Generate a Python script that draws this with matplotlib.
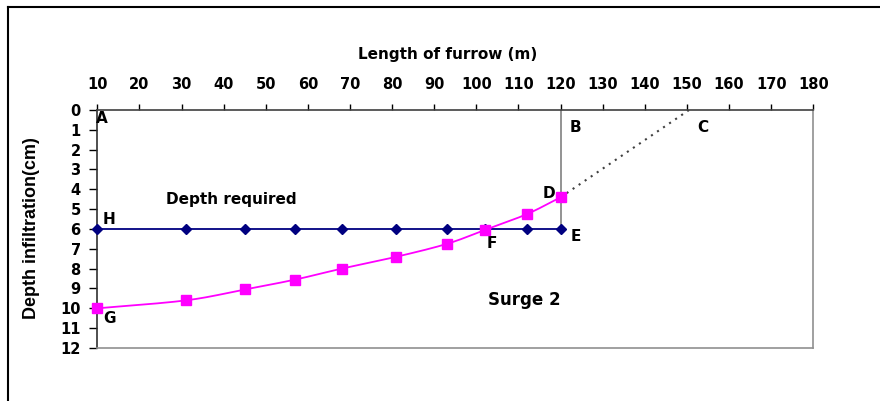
import numpy as np
import matplotlib
matplotlib.use("Agg")
import matplotlib.pyplot as plt
from matplotlib.lines import Line2D

plt.rcParams['font.family'] = ['DejaVu Sans']
plt.rcParams['font.weight'] = 'bold'

# depth required line (H - E)
req_x = [10, 31, 45, 57, 68, 81, 93, 102, 112, 120]
req_y = [6, 6, 6, 6, 6, 6, 6, 6, 6, 6]

# surge 2 infiltration (G - D)
surge_x = [10, 31, 45, 57, 68, 81, 93, 102, 112, 120]
surge_y = [10.0, 9.6, 9.05, 8.55, 8.0, 7.4, 6.75, 6.05, 5.25, 4.4]

# extension D - C and line B - E
ext_x = [120, 150.5]
ext_y = [4.4, 0]
vert_x = [120, 120]
vert_y = [0, 6]

point_labels = [("A", 11.0, 0.45), ("B", 123.5, 0.9), ("C", 153.8, 0.9),
                ("D", 117.3, 4.2), ("E", 123.5, 6.4), ("F", 103.6, 6.75),
                ("G", 12.8, 10.5), ("H", 12.8, 5.5)]


def smooth(x, y, n=20):
    # catmull-rom, just for drawing the curve like excel does
    x = np.asarray(x, float)
    y = np.asarray(y, float)
    px = np.concatenate([[2 * x[0] - x[1]], x, [2 * x[-1] - x[-2]]])
    py = np.concatenate([[2 * y[0] - y[1]], y, [2 * y[-1] - y[-2]]])
    xs, ys = [], []
    t = np.linspace(0, 1, n, endpoint=False)
    for i in range(1, len(px) - 2):
        for p, out in ((px, xs), (py, ys)):
            p0, p1, p2, p3 = p[i - 1], p[i], p[i + 1], p[i + 2]
            out.extend(0.5 * (2 * p1 + (-p0 + p2) * t + (2 * p0 - 5 * p1 + 4 * p2 - p3) * t ** 2
                              + (-p0 + 3 * p1 - 3 * p2 + p3) * t ** 3))
    xs.append(x[-1])
    ys.append(y[-1])
    return xs, ys


fig = plt.figure(figsize=(8.8, 4.01), dpi=100)
ax = fig.add_axes([0.1106, 0.1322, 0.8136, 0.5935])

ax.plot(vert_x, vert_y, color='#808080', lw=1.2, zorder=2)
ax.plot(ext_x, ext_y, color='#404040', lw=1.5, ls=(0, (1, 2.5)), zorder=2)
ax.plot(req_x, req_y, color='#000080', lw=1.3, marker='D', ms=5.5, zorder=3, clip_on=False)
sx, sy = smooth(surge_x, surge_y)
ax.plot(sx, sy, color='#FF00FF', lw=1.3, zorder=4, clip_on=False)
ax.plot(surge_x, surge_y, ls='none', color='#FF00FF', marker='s', ms=7, zorder=5, clip_on=False)

for txt, x, y in point_labels:
    ax.text(x, y, txt, fontsize=11, fontweight='bold', ha='center', va='center')
ax.text(41.8, 4.5, "Depth required", fontsize=11, fontweight='bold', ha='center', va='center')
ax.text(111.3, 9.6, "Surge 2", fontsize=12, fontweight='bold', ha='center', va='center')

ax.set_xlim(10, 180)
ax.set_ylim(12, 0)
ax.set_xticks(range(10, 181, 10))
ax.set_yticks(range(0, 13))
ax.xaxis.tick_top()
ax.tick_params(axis='x', length=4, width=1, pad=9, labelsize=10.5, colors='black')
ax.tick_params(axis='y', length=6, width=1, pad=6, labelsize=10.5, colors='black')
for lab in ax.get_xticklabels() + ax.get_yticklabels():
    lab.set_fontweight('bold')

ax.spines['top'].set_color('#404040')
ax.spines['left'].set_color('#303030')
ax.spines['bottom'].set_color('#909090')
ax.spines['right'].set_color('#909090')
for s in ax.spines.values():
    s.set_linewidth(1.2)

fig.text(448 / 880, 1 - 54 / 401, "Length of furrow (m)", fontsize=11, fontweight='bold',
         ha='center', va='center')
fig.text(31 / 880, 1 - 228 / 401, "Depth infiltration(cm)", fontsize=13, fontweight='bold',
         ha='center', va='center', rotation=90,
         family=['Liberation Sans Narrow', 'Liberation Sans'])

# outer frame (top and left edges only are visible)
fig.add_artist(Line2D([8 / 880, 1], [1 - 7 / 401, 1 - 7 / 401], color='black', lw=1.5))
fig.add_artist(Line2D([8 / 880, 8 / 880], [0, 1 - 7 / 401], color='black', lw=1.5))

fig.savefig("out.png", dpi=100)
